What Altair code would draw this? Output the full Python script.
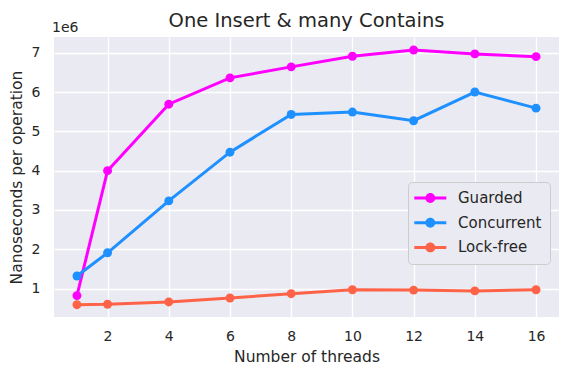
import altair as alt
import pandas as pd

threads = [1, 2, 4, 6, 8, 10, 12, 14, 16]
guarded = [820000, 4000000, 5690000, 6360000, 6640000, 6910000, 7070000, 6970000, 6900000]
concurrent = [1320000, 1910000, 3230000, 4470000, 5430000, 5490000, 5270000, 6000000, 5590000]
lockfree = [590000, 600000, 660000, 760000, 870000, 970000, 960000, 940000, 970000]

series_names = ["Guarded", "Concurrent", "Lock-free"]
series_colors = ["#ff00ff", "#1e90ff", "#ff6347"]
x_ticks = [2, 4, 6, 8, 10, 12, 14, 16]
y_ticks = [1000000, 2000000, 3000000, 4000000, 5000000, 6000000, 7000000]

rows = []
for name, vals in zip(series_names, [guarded, concurrent, lockfree]):
    for t, v in zip(threads, vals):
        rows.append({"threads": t, "ns": v, "series": name})
df = pd.DataFrame(rows)

FONT = "DejaVu Sans"
TXT = "#262626"

x = alt.X("threads:Q", scale=alt.Scale(domain=[0.25, 16.75], nice=False, zero=False),
          axis=alt.Axis(values=x_ticks, title="Number of threads", labelPadding=12,
                        titlePadding=6))
y = alt.Y("ns:Q", scale=alt.Scale(domain=[276000, 7400000], nice=False, zero=False),
          axis=alt.Axis(values=y_ticks, labelExpr="format(datum.value/1e6, 'd')",
                        title="Nanoseconds per operation", labelPadding=14, titlePadding=7))
color_scale = alt.Scale(domain=series_names, range=series_colors)

sym_path = ("M-1.21,-0.19H2.79V0.19H-1.21Z "
            "M1.41,0A0.62,0.62,0,1,1,0.17,0A0.62,0.62,0,1,1,1.41,0Z")

lines = alt.Chart(df).mark_line(strokeWidth=3).encode(
    x=x, y=y,
    color=alt.Color("series:N", scale=color_scale, legend=None),
    detail="series:N",
)
points = alt.Chart(df).mark_point(filled=True, size=80, opacity=1).encode(
    x=x, y=y,
    color=alt.Color("series:N", scale=color_scale,
                    legend=alt.Legend(title=None, orient="none", legendX=354, legendY=145,
                                      symbolType=sym_path, symbolSize=256,
                                      symbolStrokeWidth=0,
                                      labelFont=FONT, labelFontSize=15, labelColor=TXT,
                                      labelOffset=26, rowPadding=8.7, padding=8,
                                      fillColor="#eaeaf2", strokeColor="#cccccc",
                                      cornerRadius=4, labelLimit=300)),
)
exp_label = alt.Chart(pd.DataFrame({"t": ["1e6"]})).mark_text(
    align="left", baseline="alphabetic", font=FONT, fontSize=14, color=TXT
).encode(text="t:N", x=alt.value(-2), y=alt.value(-5))

chart = alt.layer(lines, points, exp_label).resolve_legend(color="independent").properties(
    width=505, height=280,
    background="white",
    autosize=alt.AutoSizeParams(type="none"),
    padding={"left": 46, "top": 29, "right": 6, "bottom": 48},
    title=alt.Title("One Insert & many Contains", font=FONT, fontSize=19.5, fontWeight="normal",
                    color=TXT, offset=5, dy=15),
).configure_view(fill="#eaeaf2", stroke=None).configure_axis(
    grid=True, gridColor="white", gridWidth=1.3, domain=False, ticks=False, tickSize=0,
    labelFont=FONT, labelFontSize=14, labelColor=TXT,
    titleFont=FONT, titleFontSize=15.5, titleColor=TXT, titleFontWeight="normal",
)

chart.save("out.html", embed_options={"renderer": "svg", "actions": False})
